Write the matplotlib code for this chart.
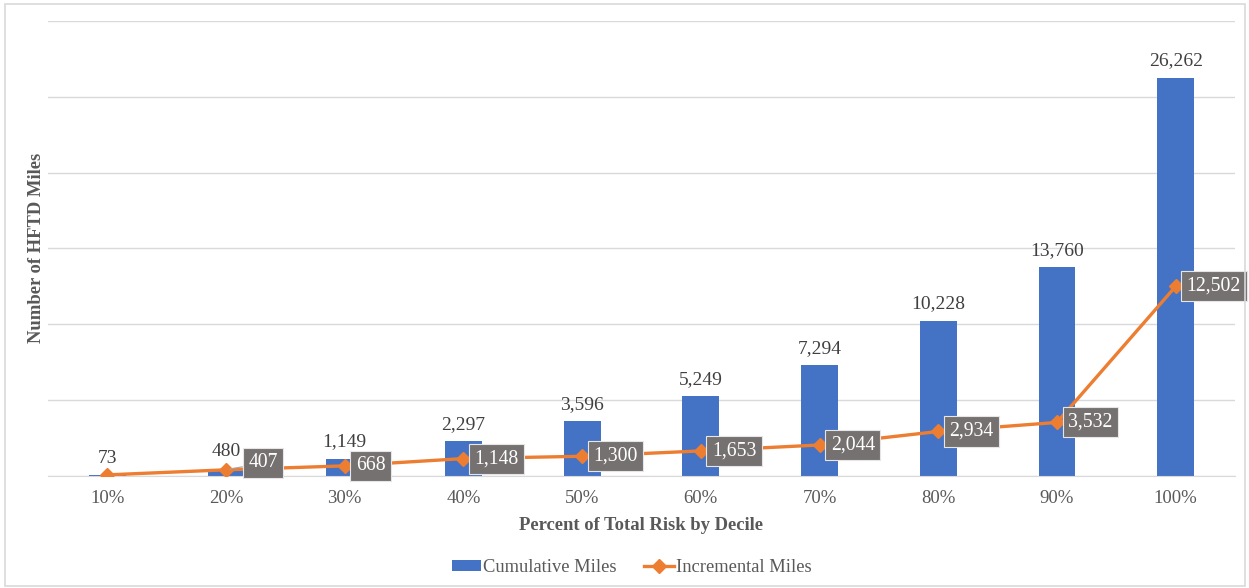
import matplotlib
matplotlib.use("Agg")
import matplotlib.pyplot as plt
from matplotlib.patches import Rectangle

plt.rcParams['font.family'] = ['Liberation Serif', 'DejaVu Serif']

categories = ['10%', '20%', '30%', '40%', '50%', '60%', '70%', '80%', '90%', '100%']
cumulative = [73, 480, 1149, 2297, 3596, 5249, 7294, 10228, 13760, 26262]
incremental = [73, 407, 668, 1148, 1300, 1653, 2044, 2934, 3532, 12502]

BLUE = '#4472C4'
ORANGE = '#ED7D31'
TEXT = '#595959'
LABEL = '#404040'
BOX = '#767171'

fig = plt.figure(figsize=(12.49, 5.88), dpi=100)
fig.patches.append(Rectangle((0.004, 0.003), 0.993, 0.990, transform=fig.transFigure,
                             fill=False, edgecolor='#D9D9D9', linewidth=1.2))

ax = fig.add_axes([0.0384, 0.1905, 0.9504, 0.7738])
x = list(range(len(categories)))

bars = ax.bar(x, cumulative, width=0.31, color=BLUE, label='Cumulative Miles', zorder=2)
line, = ax.plot(x, incremental, color=ORANGE, linewidth=2.4, marker='D', markersize=7,
                label='Incremental Miles', zorder=3)

ax.set_xlim(-0.5, len(categories) - 0.5)
ax.set_ylim(0, 30000)
ax.set_yticks(range(0, 30001, 5000))
ax.set_yticklabels([])
ax.tick_params(axis='y', length=0)
ax.tick_params(axis='x', length=0, labelsize=13.5, labelcolor=TEXT, pad=10)
ax.set_xticks(x)
ax.set_xticklabels(categories)
ax.grid(axis='y', color='#D9D9D9', linewidth=1, zorder=0)
for side in ['top', 'right', 'left']:
    ax.spines[side].set_visible(False)
ax.spines['bottom'].set_color('#D9D9D9')

# Cumulative labels above the bars
for xi, v in zip(x, cumulative):
    ax.annotate(f'{v:,}', (xi, v), xytext=(0, 6), textcoords='offset points',
                ha='center', va='bottom', fontsize=14, color=LABEL)

# Incremental labels in grey boxes to the right of each point;
# the second one is nudged aside to clear the bar label and gets a leader line
for i, (xi, v) in enumerate(zip(x, incremental)):
    if i == 0:
        continue
    nudged = (i == 1)
    dx, dy = (16, 5) if nudged else (8, 0)
    ax.annotate(f'{v:,}', (xi, v), xytext=(dx, dy), textcoords='offset points',
                ha='left', va='center', fontsize=14.2, color='white', zorder=5,
                bbox=dict(boxstyle='square,pad=0.28', facecolor=BOX,
                          edgecolor='#E7E6E6', linewidth=0.8),
                arrowprops=dict(arrowstyle='-', color='#A6A6A6', linewidth=0.8,
                                shrinkA=0, shrinkB=3) if nudged else None)

ax.set_xlabel('Percent of Total Risk by Decile', fontsize=13.4, fontweight='bold',
              color=TEXT, labelpad=7)
ax.set_ylabel('Number of HFTD Miles', fontsize=13.4, fontweight='bold', color=TEXT)
ax.yaxis.set_label_coords(-0.0025, 0.502)

leg = fig.legend([bars, line], ['Cumulative Miles', 'Incremental Miles'],
                 loc='center', bbox_to_anchor=(0.5056, 0.035), ncol=2, frameon=False,
                 fontsize=13.3, handlelength=1.6, handleheight=0.5,
                 columnspacing=1.5, handletextpad=0.1)
for t in leg.get_texts():
    t.set_color(TEXT)

fig.savefig('out.png', dpi=100)
